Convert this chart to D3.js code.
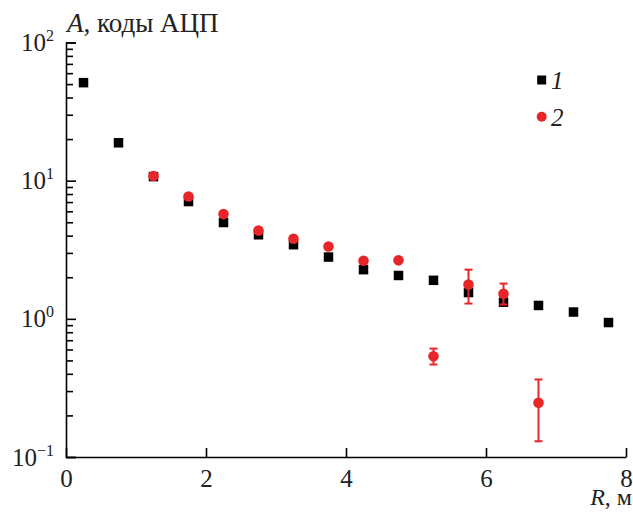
<!DOCTYPE html>
<html>
<head>
<meta charset="utf-8">
<script src="https://cdn.jsdelivr.net/npm/d3@7/dist/d3.min.js"></script>
<style>
  html, body { margin: 0; padding: 0; background: #fff; }
  svg { display: block; }
  svg text { font-family: "Liberation Serif", "Times New Roman", Times, serif; }
</style>
</head>
<body>
<svg id="chart" width="633" height="516"></svg>
<script>
// Distance from the array axis, m
const radiusBlack = [0.25, 0.75, 1.25, 1.75, 2.25, 2.75, 3.25, 3.75, 4.25, 4.75, 5.25, 5.75, 6.25, 6.75, 7.25, 7.75];
// Series 1: mean amplitude, ADC codes
const ampBlack = [51.2, 18.8, 10.7, 7.06, 4.98, 4.06, 3.44, 2.80, 2.27, 2.06, 1.90, 1.55, 1.32, 1.25, 1.12, 0.94];

const radiusRed = [1.25, 1.75, 2.25, 2.75, 3.25, 3.75, 4.25, 4.75, 5.25, 5.75, 6.25, 6.75];
// Series 2: mean amplitude with lower / upper error limits
const ampRed = [10.8, 7.68, 5.73, 4.36, 3.80, 3.34, 2.63, 2.65, 0.536, 1.77, 1.52, 0.247];
const ampRedLow = [10.8, 7.68, 5.73, 4.36, 3.80, 3.34, 2.63, 2.65, 0.467, 1.29, 1.27, 0.130];
const ampRedHigh = [10.8, 7.68, 5.73, 4.36, 3.80, 3.34, 2.63, 2.65, 0.609, 2.27, 1.80, 0.364];

const xTicks = [0, 2, 4, 6, 8];
const yMajorExp = [-1, 0, 1, 2];
const legendLabels = ["1", "2"];

const black = "#000000";
const red = "#e8262a";
const textColor = "#222";

const svg = d3.select("#chart");
const plotLeft = 66, plotRight = 626, plotTop = 42.5, plotBottom = 457;

const x = d3.scaleLinear().domain([0, 8]).range([plotLeft, plotRight]);
const y = d3.scaleLog().domain([0.1, 100]).range([plotBottom, plotTop]);

// Minor log ticks 2..9 of each decade
const minorTicks = [];
for (let e = -1; e < 2; e++) {
  for (let m = 2; m <= 9; m++) minorTicks.push(m * Math.pow(10, e));
}

// y axis: major ticks with power-of-ten labels
const yAxisG = svg.append("g")
  .attr("transform", `translate(${plotLeft},0)`)
  .call(d3.axisLeft(y)
    .tickValues(yMajorExp.map(e => Math.pow(10, e)))
    .tickSize(-10)
    .tickPadding(12)
    .tickFormat(""));
yAxisG.select(".domain").attr("stroke-width", 1.6);
yAxisG.selectAll(".tick line").attr("stroke-width", 1.6);
yAxisG.selectAll(".tick text").remove();
yAxisG.selectAll(".tick").each(function(d) {
  const t = d3.select(this).append("text")
    .attr("x", -12).attr("dy", "0.32em")
    .attr("text-anchor", "end")
    .attr("fill", textColor)
    .attr("font-size", 25);
  t.append("tspan").text("10");
  t.append("tspan")
    .attr("font-size", 16)
    .attr("dy", -10)
    .text(String(Math.round(Math.log10(d))).replace("-", "\u2212"));
});

// y axis: minor ticks
const yMinorG = svg.append("g")
  .attr("transform", `translate(${plotLeft},0)`)
  .call(d3.axisLeft(y).tickValues(minorTicks).tickSize(-7).tickFormat(""));
yMinorG.select(".domain").remove();
yMinorG.selectAll(".tick line").attr("stroke-width", 1.6);

// x axis
const xAxisG = svg.append("g")
  .attr("transform", `translate(0,${plotBottom})`)
  .call(d3.axisBottom(x)
    .tickValues(xTicks)
    .tickSize(-9)
    .tickPadding(12)
    .tickSizeOuter(0)
    .tickFormat(d3.format("d")));
xAxisG.select(".domain").attr("stroke-width", 1.6);
xAxisG.selectAll(".tick line").attr("stroke-width", 1.6);
xAxisG.selectAll(".tick text")
  .attr("font-size", 25)
  .attr("fill", textColor);

// Axis titles
const yTitle = svg.append("text")
  .attr("x", 67).attr("y", 32)
  .attr("font-size", 27).attr("fill", textColor);
yTitle.append("tspan").attr("font-style", "italic").text("A");
yTitle.append("tspan").text(", коды АЦП");

const xTitle = svg.append("text")
  .attr("x", 632).attr("y", 505)
  .attr("text-anchor", "end")
  .attr("font-size", 24).attr("fill", textColor);
xTitle.append("tspan").attr("font-style", "italic").text("R");
xTitle.append("tspan").text(", м");

// Series 1: squares
const sq = 9.5;
svg.append("g").selectAll("rect")
  .data(radiusBlack.map((r, i) => ({ r, a: ampBlack[i] })))
  .join("rect")
  .attr("x", d => x(d.r) - sq / 2)
  .attr("y", d => y(d.a) - sq / 2)
  .attr("width", sq).attr("height", sq)
  .attr("fill", black);

// Series 2: error bars and circles
const redData = radiusRed.map((r, i) => ({ r, a: ampRed[i], lo: ampRedLow[i], hi: ampRedHigh[i] }));
const errG = svg.append("g").attr("stroke", red).attr("stroke-width", 2);
const withErr = redData.filter(d => d.hi > d.lo);
errG.selectAll("line.v").data(withErr).join("line").attr("class", "v")
  .attr("x1", d => x(d.r)).attr("x2", d => x(d.r))
  .attr("y1", d => y(d.lo)).attr("y2", d => y(d.hi));
errG.selectAll("line.lo").data(withErr).join("line").attr("class", "lo")
  .attr("x1", d => x(d.r) - 4).attr("x2", d => x(d.r) + 4)
  .attr("y1", d => y(d.lo)).attr("y2", d => y(d.lo));
errG.selectAll("line.hi").data(withErr).join("line").attr("class", "hi")
  .attr("x1", d => x(d.r) - 4).attr("x2", d => x(d.r) + 4)
  .attr("y1", d => y(d.hi)).attr("y2", d => y(d.hi));

svg.append("g").selectAll("circle")
  .data(redData)
  .join("circle")
  .attr("cx", d => x(d.r))
  .attr("cy", d => y(d.a))
  .attr("r", 5.3)
  .attr("fill", red);

// Legend
const legend = svg.append("g");
legend.append("rect")
  .attr("x", 541.7 - 4.5).attr("y", 80 - 4.5)
  .attr("width", 9).attr("height", 9)
  .attr("fill", black);
legend.append("circle")
  .attr("cx", 541.7).attr("cy", 116.7).attr("r", 5)
  .attr("fill", red);
legend.selectAll("text")
  .data(legendLabels)
  .join("text")
  .attr("x", 551)
  .attr("y", (d, i) => 89 + i * 37)
  .attr("font-size", 25)
  .attr("font-style", "italic")
  .attr("fill", textColor)
  .text(d => d);
</script>
</body>
</html>
